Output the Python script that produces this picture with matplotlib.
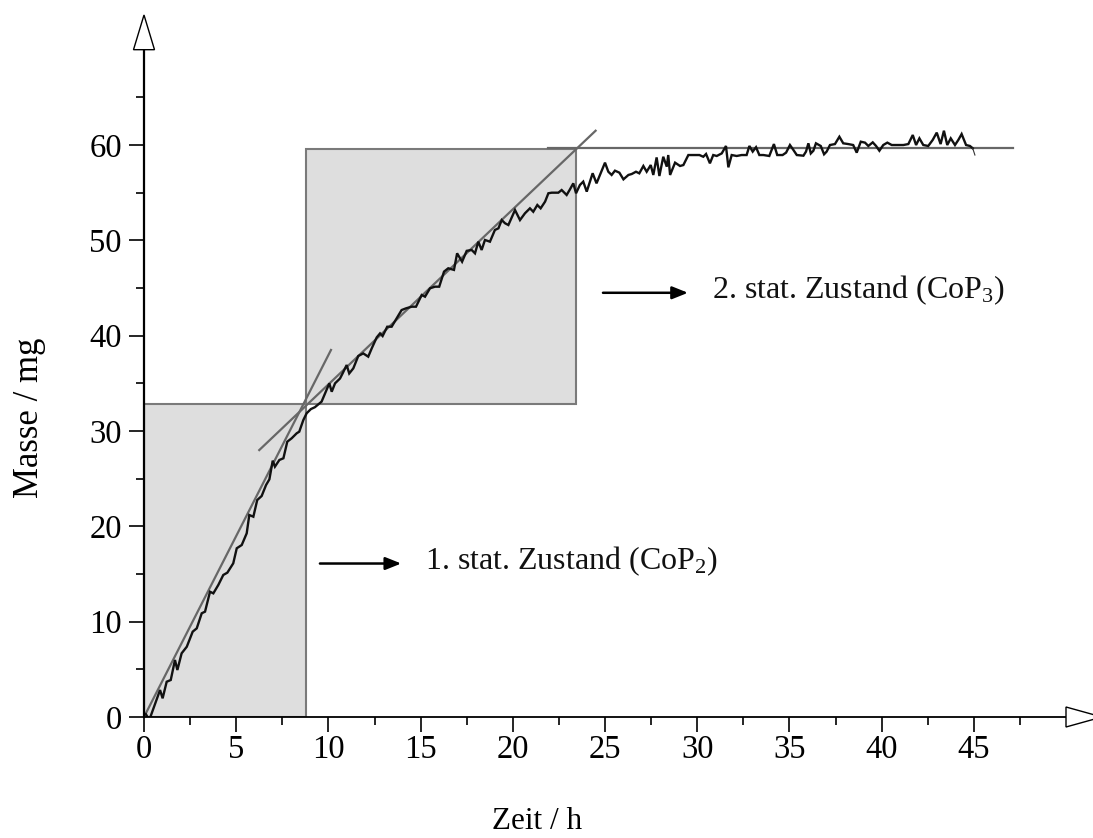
import matplotlib
matplotlib.use("Agg")
import matplotlib.pyplot as plt
from matplotlib.patches import Rectangle, Polygon
from matplotlib.ticker import MultipleLocator

plt.rcParams["font.family"] = ["Liberation Serif", "DejaVu Serif"]
plt.rcParams["mathtext.fontset"] = "custom"
plt.rcParams["mathtext.rm"] = "Liberation Serif"
plt.rcParams["mathtext.it"] = "Liberation Serif:italic"

# Measured mass uptake over time
zeit_h = [0.10, 0.29, 0.87, 1.01, 1.23, 1.45, 1.68, 1.81, 2.04, 2.32, 2.64, 2.86,
          3.13, 3.31, 3.58, 3.76, 4.03, 4.30, 4.52, 4.84, 5.03, 5.30, 5.57, 5.71,
          5.93, 6.14, 6.38, 6.62, 6.80, 6.98, 7.10, 7.34, 7.56, 7.77, 8.01, 8.28,
          8.42, 8.64, 8.82, 9.05, 9.27, 9.63, 9.82, 10.05, 10.18, 10.36, 10.63,
          10.77, 10.99, 11.13, 11.35, 11.62, 11.89, 12.16, 12.35, 12.62, 12.80,
          12.94, 13.19, 13.43, 13.70, 13.97, 14.21, 14.52, 14.75, 15.06, 15.24,
          15.51, 15.78, 16.01, 16.27, 16.50, 16.81, 16.98, 17.25, 17.50, 17.77,
          17.95, 18.13, 18.31, 18.49, 18.76, 19.03, 19.22, 19.40, 19.58, 19.76,
          20.12, 20.39, 20.66, 20.93, 21.11, 21.33, 21.51, 21.75, 21.93, 22.11,
          22.47, 22.65, 22.92, 23.10, 23.28, 23.43, 23.64, 23.82, 24.01, 24.33,
          24.54, 25.00, 25.18, 25.36, 25.54, 25.78, 26.00, 26.27, 26.45, 26.68,
          26.86, 27.08, 27.26, 27.48, 27.62, 27.80, 27.95, 28.16, 28.35, 28.43,
          28.53, 28.80, 29.07, 29.25, 29.52, 29.79, 30.12, 30.33, 30.48, 30.69,
          30.87, 31.06, 31.33, 31.56, 31.69, 31.87, 32.14, 32.41, 32.68, 32.83,
          33.01, 33.19, 33.37, 33.59, 33.91, 34.16, 34.34, 34.63, 34.82, 35.03,
          35.21, 35.40, 35.76, 35.90, 36.03, 36.16, 36.30, 36.44, 36.70, 36.88,
          37.02, 37.20, 37.47, 37.71, 37.92, 38.19, 38.46, 38.65, 38.87, 39.10,
          39.28, 39.52, 39.70, 39.88, 40.09, 40.31, 40.55, 40.82, 41.18, 41.45,
          41.69, 41.87, 42.05, 42.26, 42.53, 42.77, 42.99, 43.20, 43.38, 43.56,
          43.75, 43.98, 44.16, 44.34, 44.58, 44.79, 44.94]
masse_mg = [0.30, -0.30, 2.83, 1.96, 3.70, 3.88, 5.98, 4.93, 6.68, 7.37, 8.95, 9.30,
            10.88, 11.05, 13.14, 12.97, 13.85, 14.90, 15.14, 16.12, 17.70, 18.04,
            19.27, 21.19, 21.01, 22.76, 23.18, 24.34, 24.93, 26.89, 26.26, 26.96,
            27.14, 28.88, 29.24, 29.76, 29.93, 31.15, 31.86, 32.30, 32.50, 33.08,
            33.96, 35.00, 34.12, 35.00, 35.51, 36.04, 36.92, 36.04, 36.57, 37.87,
            38.14, 37.80, 38.67, 39.82, 40.24, 39.96, 40.94, 40.94, 41.82, 42.69,
            42.87, 43.04, 43.04, 44.27, 44.09, 44.97, 45.14, 45.14, 46.72, 47.07,
            46.90, 48.64, 47.76, 48.90, 48.99, 48.64, 49.86, 48.99, 50.04, 49.86,
            51.09, 51.26, 52.13, 51.79, 51.61, 53.18, 52.13, 52.84, 53.36, 53.00,
            53.71, 53.36, 54.06, 54.94, 55.00, 55.00, 55.28, 54.76, 55.35, 55.98,
            54.94, 55.81, 56.16, 55.11, 57.04, 55.98, 58.15, 57.20, 56.86, 57.31,
            57.10, 56.40, 56.86, 56.96, 57.20, 57.03, 57.80, 57.20, 57.90, 56.86,
            58.70, 56.75, 58.77, 57.73, 58.95, 56.86, 58.15, 57.80, 57.90, 58.95,
            58.95, 58.95, 58.77, 59.06, 58.08, 58.95, 58.85, 59.12, 59.90, 57.66,
            58.95, 58.85, 58.95, 58.95, 59.90, 59.31, 59.77, 58.95, 58.95, 58.85,
            60.10, 58.95, 58.95, 59.20, 60.00, 59.50, 58.95, 58.88, 59.31, 60.18,
            59.12, 59.40, 60.18, 59.90, 59.03, 59.31, 60.00, 60.10, 60.87, 60.18,
            60.10, 60.00, 59.20, 60.35, 60.25, 59.90, 60.28, 59.90, 59.40, 60.00,
            60.25, 60.00, 60.00, 60.00, 60.10, 61.05, 60.00, 60.70, 60.00, 59.90,
            60.53, 61.30, 60.10, 61.50, 60.00, 60.70, 60.00, 60.53, 61.15, 60.00,
            59.90, 59.66]
ende_zeit = [44.94, 45.06]
ende_masse = [59.66, 58.95]

# Stationary-state boxes (x0, x1, y0, y1)
zustand1 = (0.0, 8.76, 0.0, 32.8)
zustand2 = (8.76, 23.43, 32.8, 59.6)

# Tangents
tangente1_x = [0.0, 10.14]
tangente1_y = [0.0, 38.5]
tangente2_x = [6.25, 24.49]
tangente2_y = [28.0, 61.5]
plateau_x = [21.9, 47.1]
plateau_y = [59.7, 59.7]

x_ticks = [0, 5, 10, 15, 20, 25, 30, 35, 40, 45]
y_ticks = [0, 10, 20, 30, 40, 50, 60]

W, H = 1093, 838
fig = plt.figure(figsize=(W / 100, H / 100), dpi=100)
px_x = 18.44
px_y = 9.533
ax = fig.add_axes([144 / W, 121 / H, 51.4 * px_x / W, 75 * px_y / H])
ax.set_xlim(0, 51.4)
ax.set_ylim(0, 75)

box_fc = "#dedede"
box_ec = "#7a7a7a"
for (x0, x1, y0, y1) in (zustand1, zustand2):
    ax.add_patch(Rectangle((x0, y0), x1 - x0, y1 - y0, facecolor=box_fc,
                           edgecolor=box_ec, linewidth=1.5, zorder=1))

tan_c = "#676767"
ax.plot(tangente1_x, tangente1_y, color=tan_c, lw=1.6, zorder=3)
ax.plot(tangente2_x, tangente2_y, color=tan_c, lw=1.6, zorder=3)
ax.plot(plateau_x, plateau_y, color=tan_c, lw=1.6, zorder=3)

ax.plot(zeit_h, masse_mg, color="#111111", lw=1.7, zorder=4,
        solid_joinstyle="miter")
ax.plot(ende_zeit, ende_masse, color="#333333", lw=0.8, zorder=4)

# Axes with open arrow heads
for s in ("top", "right"):
    ax.spines[s].set_visible(False)
ax.spines["left"].set_bounds(0, 70)
ax.spines["bottom"].set_bounds(0, 50)
ax.spines["left"].set_linewidth(1.6)
ax.spines["bottom"].set_linewidth(1.3)
ax.spines["left"].set_zorder(5)
ax.spines["bottom"].set_zorder(5)

hw_x = 10.5 / px_x
ax.add_patch(Polygon([(-hw_x, 70), (hw_x, 70), (0, 73.64)], closed=True,
                     facecolor="white", edgecolor="black", lw=1.0,
                     clip_on=False, zorder=6))
hh_y = 10.0 / px_y
ax.add_patch(Polygon([(50, -hh_y), (50, hh_y), (50 + 36 / px_x, 0)], closed=True,
                     facecolor="white", edgecolor="black", lw=1.0,
                     clip_on=False, zorder=6))

ax.set_xticks(x_ticks)
ax.set_xticklabels([str(v) for v in x_ticks])
ax.set_yticks(y_ticks)
ax.set_yticklabels([str(v) for v in y_ticks])
ax.set_yticks([5, 15, 25, 35, 45, 55, 65], minor=True)
ax.set_xticks([2.5, 7.5, 12.5, 17.5, 22.5, 27.5, 32.5, 37.5, 42.5, 47.5], minor=True)
ax.tick_params(axis="both", which="major", direction="out", length=11,
               width=1.2, labelsize=23.5, colors="black")
ax.tick_params(axis="both", which="minor", direction="out", length=5.8, width=1.2)
ax.tick_params(axis="x", which="major", pad=1.5)
ax.tick_params(axis="y", which="major", pad=5)

# Annotations
ax.annotate("", xy=(13.95, 16.1), xytext=(9.54, 16.1),
            arrowprops=dict(arrowstyle="-|>,head_length=0.95,head_width=0.38",
                            color="black", lw=1.8, shrinkA=0, shrinkB=0))
ax.text(15.24, 15.52, "1. stat. Zustand (CoP$_2$)", fontsize=23, va="baseline",
        ha="left", color="#111111")
ax.annotate("", xy=(29.5, 44.5), xytext=(24.89, 44.5),
            arrowprops=dict(arrowstyle="-|>,head_length=0.95,head_width=0.38",
                            color="black", lw=1.8, shrinkA=0, shrinkB=0))
ax.text(30.8, 43.9, "2. stat. Zustand (CoP$_3$)", fontsize=23, va="baseline",
        ha="left", color="#111111")

fig.text(30 / W, 1 - 418 / H, "Masse / mg", rotation=90, fontsize=25,
         ha="center", va="center")
fig.text(537 / W, 1 - 821 / H, "Zeit / h", fontsize=22.5, ha="center", va="center")

fig.savefig("out.png", dpi=100)
